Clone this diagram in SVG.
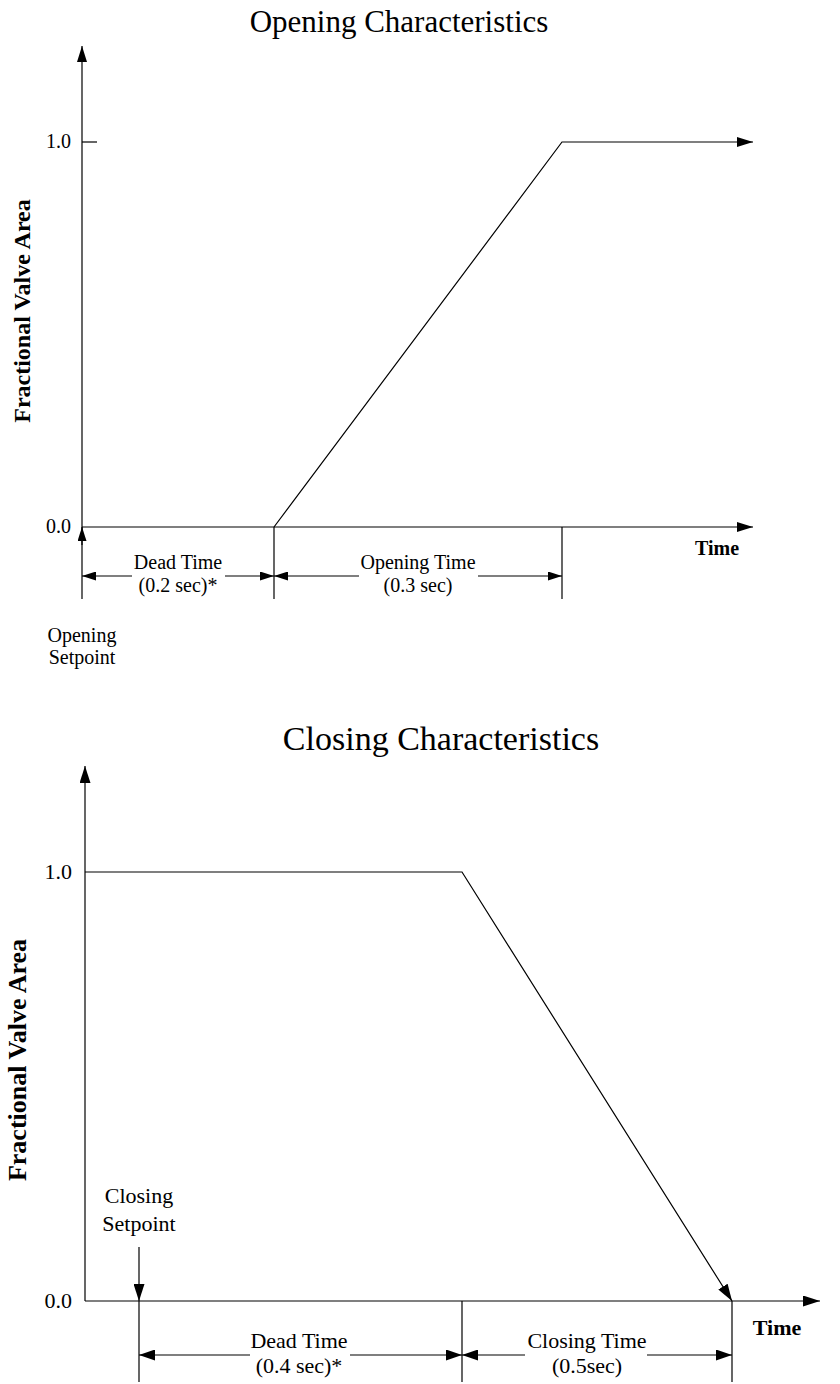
<svg xmlns="http://www.w3.org/2000/svg" width="840" height="1384" viewBox="0 0 840 1384">
<style>
  .ln { stroke:#000; stroke-width:1.2; fill:none; }
  .t { font-family:"Liberation Serif","Times New Roman",serif; fill:#000; }
  .title1 { font-size:31px; }
  .title2 { font-size:34px; }
  .lab1 { font-size:20px; }
  .lab2 { font-size:22px; }
  .b { font-weight:bold; }
</style>
<defs>
  <marker id="aS" viewBox="0 0 14 9" refX="14" refY="4.5" markerWidth="14" markerHeight="9" markerUnits="userSpaceOnUse" orient="auto-start-reverse">
    <path d="M0,0 L14,4.5 L0,9 z" fill="#000"/>
  </marker>
  <marker id="aM" viewBox="0 0 16 10" refX="16" refY="5" markerWidth="16" markerHeight="10" markerUnits="userSpaceOnUse" orient="auto-start-reverse">
    <path d="M0,0 L16,5 L0,10 z" fill="#000"/>
  </marker>
  <marker id="aL" viewBox="0 0 17 11" refX="17" refY="5.5" markerWidth="17" markerHeight="11" markerUnits="userSpaceOnUse" orient="auto-start-reverse">
    <path d="M0,0 L17,5.5 L0,11 z" fill="#000"/>
  </marker>
  <marker id="aD" viewBox="0 0 16 11" refX="16" refY="5.5" markerWidth="16" markerHeight="11" markerUnits="userSpaceOnUse" orient="auto-start-reverse">
    <path d="M0,0 L16,5.5 L0,11 z" fill="#000"/>
  </marker>
</defs>

<!-- ===== Opening chart ===== -->
<g id="opening-title"><text class="t title1" x="399" y="32" text-anchor="middle">Opening Characteristics</text></g>
<g id="opening-axes">
  <line class="ln" x1="82" y1="599" x2="82" y2="46" marker-end="url(#aM)"/>
  <line class="ln" x1="82" y1="527" x2="753" y2="527" marker-end="url(#aM)"/>
  <line class="ln" x1="82" y1="142" x2="97" y2="142"/>
  <text class="t lab1" x="71" y="148" text-anchor="end">1.0</text>
  <text class="t lab1" x="71" y="533" text-anchor="end">0.0</text>
  <text class="t lab1 b" x="717" y="555" text-anchor="middle">Time</text>
  <text class="t b" style="font-size:24px" transform="translate(30,311) rotate(-90)" text-anchor="middle">Fractional Valve Area</text>
</g>
<g id="opening-setpoint">
  <line class="ln" x1="82" y1="545" x2="82" y2="527" marker-end="url(#aS)"/>
  <text class="t lab1" x="82" y="642" text-anchor="middle">Opening</text>
  <text class="t lab1" x="82" y="664" text-anchor="middle">Setpoint</text>
</g>
<g id="opening-curve">
  <polyline class="ln" points="274,527 562,142 753,142" marker-end="url(#aM)"/>
</g>
<g id="opening-dims">
  <line class="ln" x1="274" y1="527" x2="274" y2="599"/>
  <line class="ln" x1="562" y1="527" x2="562" y2="599"/>
  <line class="ln" x1="132" y1="576" x2="82" y2="576" marker-end="url(#aS)"/>
  <line class="ln" x1="225" y1="576" x2="274" y2="576" marker-end="url(#aS)"/>
  <text class="t lab1" x="178" y="569" text-anchor="middle">Dead Time</text>
  <text class="t lab1" x="178" y="592" text-anchor="middle">(0.2 sec)*</text>
  <line class="ln" x1="359" y1="576" x2="274" y2="576" marker-end="url(#aS)"/>
  <line class="ln" x1="478" y1="576" x2="562" y2="576" marker-end="url(#aS)"/>
  <text class="t lab1" x="418" y="569" text-anchor="middle">Opening Time</text>
  <text class="t lab1" x="418" y="592" text-anchor="middle">(0.3 sec)</text>
</g>

<!-- ===== Closing chart ===== -->
<g id="closing-title"><text class="t title2" x="441" y="750" text-anchor="middle">Closing Characteristics</text></g>
<g id="closing-axes">
  <line class="ln" x1="85" y1="1301" x2="85" y2="766" marker-end="url(#aL)"/>
  <line class="ln" x1="85" y1="1301" x2="820" y2="1301" marker-end="url(#aL)"/>
  <text class="t lab2" x="72" y="879" text-anchor="end">1.0</text>
  <text class="t lab2" x="72" y="1308" text-anchor="end">0.0</text>
  <text class="t lab2 b" x="777" y="1335" text-anchor="middle">Time</text>
  <text class="t b" style="font-size:26px" transform="translate(26,1060) rotate(-90)" text-anchor="middle">Fractional Valve Area</text>
</g>
<g id="closing-setpoint">
  <line class="ln" x1="139" y1="1247" x2="139" y2="1301" marker-end="url(#aL)"/>
  <line class="ln" x1="139" y1="1301" x2="139" y2="1382"/>
  <text class="t lab2" x="139" y="1203" text-anchor="middle">Closing</text>
  <text class="t lab2" x="139" y="1231" text-anchor="middle">Setpoint</text>
</g>
<g id="closing-curve">
  <polyline class="ln" points="85,872 462,872 732,1301" marker-end="url(#aL)"/>
</g>
<g id="closing-dims">
  <line class="ln" x1="462" y1="1301" x2="462" y2="1382"/>
  <line class="ln" x1="732" y1="1301" x2="732" y2="1382"/>
  <line class="ln" x1="250" y1="1355" x2="139" y2="1355" marker-end="url(#aD)"/>
  <line class="ln" x1="350" y1="1355" x2="462" y2="1355" marker-end="url(#aD)"/>
  <text class="t lab2" x="299" y="1348" text-anchor="middle">Dead Time</text>
  <text class="t lab2" x="299" y="1373" text-anchor="middle">(0.4 sec)*</text>
  <line class="ln" x1="525" y1="1355" x2="462" y2="1355" marker-end="url(#aD)"/>
  <line class="ln" x1="647" y1="1355" x2="732" y2="1355" marker-end="url(#aD)"/>
  <text class="t lab2" x="587" y="1348" text-anchor="middle">Closing Time</text>
  <text class="t lab2" x="587" y="1373" text-anchor="middle">(0.5sec)</text>
</g>
</svg>
